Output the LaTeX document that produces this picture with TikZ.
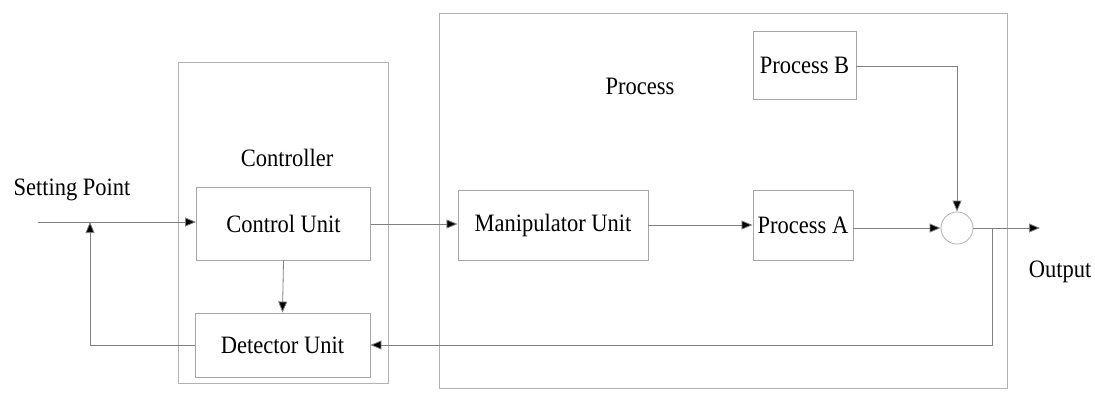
\documentclass[tikz,border=0pt]{standalone}
\usepackage{fontspec}
\setmainfont{Liberation Serif}
\newfontfamily\tms[FakeStretch=0.9]{Liberation Serif}
\usetikzlibrary{arrows.meta}
\begin{document}
\begin{tikzpicture}[x=1pt,y=-1pt,
  line/.style={draw=black!50,line width=0.8pt},
  frame/.style={draw=black!30,line width=0.9pt},
  blk/.style={draw=black!35,line width=0.9pt,minimum width=#1,minimum height=72pt,inner sep=0pt,font=\tms\fontsize{25}{27}\selectfont},
  lbl/.style={font=\tms\fontsize{25}{27}\selectfont,inner sep=0pt},
  arr/.style={line,-{Triangle[length=11pt,width=9pt,fill=black]}}]
\useasboundingbox (0,0) rectangle (1095,392);
% frames
\draw[frame] (178,62) rectangle (388,383);
\draw[frame] (439,13) rectangle (1007,388);
\node[lbl] (ctl) at (287,158) {Controller};
\node[lbl] (prc) at (640,86) {Process};
% blocks
\node[blk=174pt,minimum height=73pt] (cu) at (283.5,224) {Control Unit};
\node[blk=175pt,minimum height=64pt] (du) at (282.5,345) {Detector Unit};
\node[blk=190pt,minimum height=70pt] (mu) at (553,225) {Manipulator Unit};
\node[blk=100pt,minimum height=70pt] (pa) at (803,225) {Process A};
\node[blk=103pt,minimum height=68pt] (pb) at (804.5,65) {Process B};
\node[draw=black!30,line width=0.8pt,circle,minimum size=32pt,inner sep=0pt] (sum) at (957,228) {};
% labels
\node[lbl] (sp) at (72,190) {Setting Point};
\node[lbl] (out) at (1060,272) {Output};
% coordinates
\coordinate (in) at (38,222);
\coordinate (fbx) at (90,222);
\coordinate (fbb) at (90,345);
\coordinate (o1) at (992,228);
\coordinate (o2) at (992,345);
\coordinate (oend) at (1040,228);
\coordinate (pbc) at (957,66);
% connectors
\draw[arr] (in) -- (cu.west |- in);
\draw[arr] (du.west |- fbb) -- (fbb) -- (fbx);
\draw[arr] (cu.south) -- (du.north);
\draw[arr] (cu.east) -- (mu.west |- cu.east);
\draw[arr] (mu.east |- pa.west) -- (pa.west);
\draw[arr] (pa.east |- sum) -- (sum.west);
\draw[arr] (pb.east |- pbc) -- (pbc) -- (sum.north);
\draw[arr] (sum.east) -- (oend);
\draw[arr] (o1) -- (o2) -- (du.east |- o2);
\end{tikzpicture}
\end{document}
